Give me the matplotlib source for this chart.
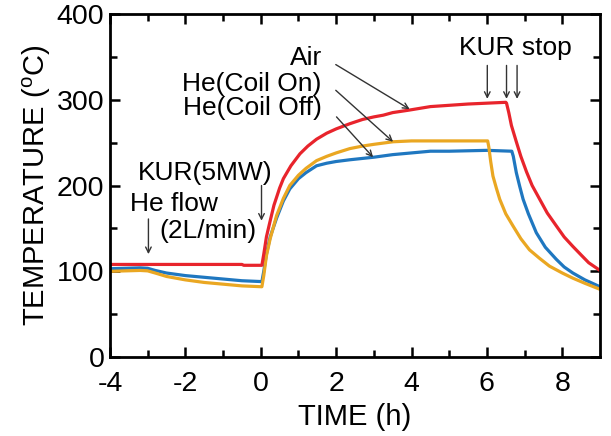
import matplotlib
matplotlib.use('Agg')
import matplotlib.pyplot as plt

plt.rcParams['font.family'] = ['Liberation Sans', 'DejaVu Sans']
plt.rcParams['mathtext.fontset'] = 'custom'
plt.rcParams['mathtext.rm'] = 'Liberation Sans'
plt.rcParams['axes.unicode_minus'] = False

# readings (time in h, temperature in degC)
t_air = [-4, -0.5, -0.45, 0.03, 0.08, 0.15, 0.24, 0.35, 0.5, 0.6, 0.8, 1.04,
         1.25, 1.48, 1.75, 2.0, 2.36, 2.7, 3.0, 3.25, 3.5, 3.95, 4.5, 5.0,
         5.5, 6.0, 6.5, 6.52, 6.58, 6.65, 6.78, 6.9, 7.05, 7.2, 7.4, 7.6,
         7.84, 8.05, 8.28, 8.5, 8.7, 9.0]
T_air = [108, 108, 107, 107, 120, 140, 157, 177, 197, 208, 223, 237,
         246, 254, 261, 266, 272, 277, 280, 282, 285, 288, 292, 293.5,
         295, 296, 297, 296, 285, 270, 251, 234, 216, 200, 184, 168,
         153, 140, 129, 119, 110, 101]

t_on = [-4, -3.2, -3, -2.8, -2.5, -2, -1.5, -1, -0.5, 0.03, 0.08, 0.15,
        0.25, 0.42, 0.6, 0.77, 1.0, 1.2, 1.48, 1.75, 2.0, 2.36, 2.7, 3.0,
        3.51, 4.0, 4.48, 5.0, 6.02, 6.05, 6.1, 6.16, 6.25, 6.34, 6.5, 6.69,
        6.9, 7.13, 7.4, 7.66, 8.0, 8.28, 8.6, 9.0]
T_on = [100, 101, 100.5, 98, 94, 90, 87, 85, 83, 82, 95, 118,
        138, 165, 185, 200, 212, 220, 229, 234, 238, 243, 246, 248,
        251, 252, 252, 252, 252, 245, 228, 211, 197, 184, 167, 153,
        138, 125, 115, 106, 98, 92, 86, 79]

t_off = [-4, -3.2, -3, -2.8, -2.5, -2, -1.5, -1, -0.5, 0.03, 0.08, 0.15,
         0.25, 0.42, 0.6, 0.77, 1.0, 1.2, 1.48, 1.75, 2.0, 2.36, 3.0, 3.5,
         4.0, 4.5, 5.0, 6.0, 6.66, 6.7, 6.78, 6.87, 6.96, 7.1, 7.31, 7.55,
         7.84, 8.05, 8.28, 8.6, 9.0]
T_off = [103, 104, 103.5, 101, 98, 95, 93, 91, 89, 88, 100, 120,
         140, 162, 182, 196, 208, 215, 223, 226, 228, 230, 233, 236,
         238, 240, 240, 241, 240, 234, 215, 199, 184, 167, 145, 128,
         114, 105, 98, 90, 82]

fig = plt.figure(figsize=(6.11, 4.36), dpi=100)
ax = fig.add_axes([0.18, 0.181, 0.802, 0.787])

ax.plot(t_off, T_off, color='#1f77c0', lw=2.3)
ax.plot(t_on, T_on, color='#eaa722', lw=2.3)
ax.plot(t_air, T_air, color='#e8242c', lw=2.3)

ax.set_xlim(-4, 9)
ax.set_ylim(0, 400)
ax.set_xticks([-4, -2, 0, 2, 4, 6, 8])
ax.set_xticks(range(-3, 9, 2), minor=True)
ax.set_yticks([0, 100, 200, 300, 400])
ax.set_yticks([50, 150, 250, 350], minor=True)
ax.tick_params(which='both', direction='in', top=True, right=True, width=1.8,
               labelsize=20.5, pad=4)
ax.tick_params(axis='x', which='major', pad=10)
ax.tick_params(which='major', length=7)
ax.tick_params(which='minor', length=5)
for s in ax.spines.values():
    s.set_linewidth(2)

ax.set_xlabel('TIME (h)', fontsize=21, labelpad=4)
ax.set_ylabel('TEMPERATURE ($^{\\rm o}$C)', fontsize=21, labelpad=3)

arr = dict(arrowstyle='->', color='#333333', lw=1.0, shrinkA=0, shrinkB=0)
fs = 19

ax.text(1.62, 349, 'Air', ha='right', va='center', fontsize=fs)
ax.text(1.62, 318, 'He(Coil On)', ha='right', va='center', fontsize=fs)
ax.text(1.62, 290, 'He(Coil Off)', ha='right', va='center', fontsize=fs)
ax.annotate('', xy=(3.95, 289), xytext=(1.99, 341), arrowprops=arr)
ax.annotate('', xy=(3.51, 251), xytext=(1.99, 311), arrowprops=arr)
ax.annotate('', xy=(2.98, 233), xytext=(2.01, 280), arrowprops=arr)

ax.text(-1.48, 215, 'KUR(5MW)', ha='center', va='center', fontsize=fs)
ax.annotate('', xy=(0.02, 159), xytext=(0.02, 200), arrowprops=arr)

ax.text(-2.3, 178, 'He flow', ha='center', va='center', fontsize=fs)
ax.text(-1.4, 147, '(2L/min)', ha='center', va='center', fontsize=fs)
ax.annotate('', xy=(-2.98, 120), xytext=(-2.98, 161), arrowprops=arr)

ax.text(6.75, 360, 'KUR stop', ha='center', va='center', fontsize=fs)
for x in [6.01, 6.52, 6.8]:
    ax.annotate('', xy=(x, 301), xytext=(x, 340), arrowprops=arr)

fig.savefig('out.png', dpi=100)
